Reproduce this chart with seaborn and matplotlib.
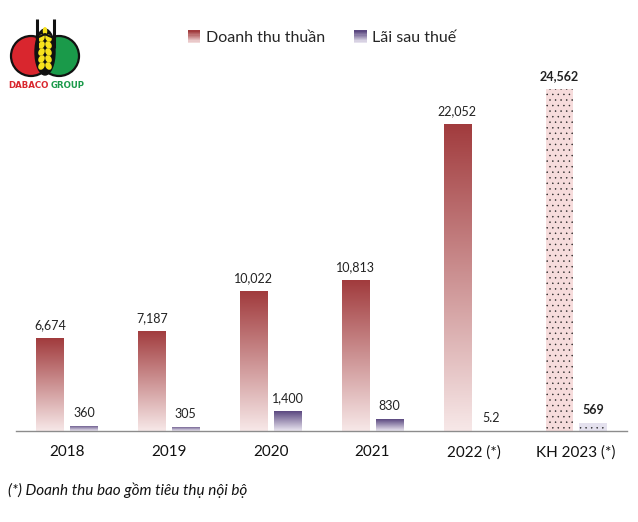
import numpy as np
import pandas as pd
import matplotlib
matplotlib.use("Agg")
import matplotlib.pyplot as plt
import seaborn as sns
from matplotlib.colors import LinearSegmentedColormap, to_rgb
from matplotlib.patches import Rectangle, Circle, Ellipse
from matplotlib.legend_handler import HandlerBase

# ---- data ----
categories = ["2018", "2019", "2020", "2021", "2022 (*)", "KH 2023 (*)"]
revenue = [6674, 7187, 10022, 10813, 22052, 24562]
profit = [360, 305, 1400, 830, 5.2, 569]
revenue_labels = ["6,674", "7,187", "10,022", "10,813", "22,052", "24,562"]
profit_labels = ["360", "305", "1,400", "830", "5.2", "569"]
series_names = ["Doanh thu thuần", "Lãi sau thuế"]
footnote = "(*) Doanh thu bao gồm tiêu thụ nội bộ"

sns.set_theme(style="white")
plt.rcParams["font.family"] = ["Lato", "DejaVu Sans"]
plt.rcParams["hatch.linewidth"] = 0.3

df = pd.DataFrame({
    "cat": categories * 2,
    "value": revenue + profit,
    "series": [series_names[0]] * len(categories) + [series_names[1]] * len(categories),
})

W, H = 638, 522
fig = plt.figure(figsize=(W / 100, H / 100), dpi=100)
ax = fig.add_axes([16 / W, 1 - 431 / H, (627 - 16) / W, (431 - 60) / H])

rev_top, rev_bot = "#a13b3d", "#f7e8e8"
pro_top, pro_bot = "#5b4880", "#ebe7f1"

sns.barplot(data=df, x="cat", y="value", hue="series", order=categories,
            hue_order=series_names, palette=[rev_top, pro_top],
            width=0.667, gap=0.2, ax=ax, legend=False, saturation=1)

ymax = 371 / 0.01393
n = len(categories)
cmaps = [LinearSegmentedColormap.from_list("r", [rev_bot, rev_top]),
         LinearSegmentedColormap.from_list("p", [pro_bot, pro_top])]
grad = np.linspace(0, 1, 256).reshape(-1, 1)

patches = list(ax.patches)
for i, p in enumerate(patches):
    s = i // n
    c = i % n
    x0, y0 = p.get_x(), p.get_y()
    w, h = p.get_width(), p.get_height()
    p.set_edgecolor("none")
    if c == n - 1:
        # plan bars: pale fill with dotted pattern
        p.set_facecolor("#f6dcdc" if s == 0 else "#e4e1ee")
        p.set_hatch("...")
        p._hatch_color = to_rgb("#222222") + (1.0,)
        p.set_linewidth(0)
    else:
        p.set_facecolor("none")
        im = ax.imshow(grad, cmap=cmaps[s], origin="lower", aspect="auto",
                       extent=[x0, x0 + w, y0, y0 + h], zorder=p.get_zorder())
        im.set_clip_path(p)
    # value labels
    lab = revenue_labels[c] if s == 0 else profit_labels[c]
    ax.text(x0 + w / 2, y0 + h + 13 / 0.01393, lab, ha="center", va="center",
            fontsize=9, color="#222222",
            fontweight="bold" if c == n - 1 else "normal")

ax.set_xlim(-0.5, n - 0.5)
ax.set_ylim(0, ymax)
ax.set_xlabel("")
ax.set_ylabel("")
ax.set_yticks([])
ax.tick_params(axis="x", length=0, pad=10, labelsize=11, labelcolor="#111111")
for side in ["top", "right", "left"]:
    ax.spines[side].set_visible(False)
ax.spines["bottom"].set_color("#8c8c8c")
ax.spines["bottom"].set_linewidth(1.0)


# ---- legend with gradient squares ----
class GradHandler(HandlerBase):
    def __init__(self, c_top, c_bot):
        super().__init__()
        self.c_top = np.array(to_rgb(c_top))
        self.c_bot = np.array(to_rgb(c_bot))

    def create_artists(self, legend, orig_handle, xdescent, ydescent, width,
                       height, fontsize, trans):
        arts = []
        k = 10
        for j in range(k):
            t = j / (k - 1)
            col = self.c_bot * (1 - t) + self.c_top * t
            r = Rectangle((-xdescent, -ydescent + height * j / k), width,
                          height / k + 0.2, facecolor=col, edgecolor="none",
                          transform=trans)
            arts.append(r)
        return arts


h1 = Rectangle((0, 0), 1, 1)
h2 = Rectangle((0, 0), 1, 1, facecolor="blue")
fig.legend([h1, h2], series_names, loc="center",
           bbox_to_anchor=(322 / W, 1 - 38 / H), ncol=2, frameon=False,
           fontsize=11.5, handlelength=0.8, handleheight=0.8, handletextpad=0.35,
           columnspacing=1.8,
           handler_map={h1: GradHandler(rev_top, "#f2dada"),
                        h2: GradHandler(pro_top, "#e6e2ee")})

# ---- footnote ----
fig.text(8 / W, 1 - 490 / H, footnote, fontsize=11, style="italic",
         color="#111111", ha="left", va="center")

# ---- logo (overlay in pixel coords) ----
ov = fig.add_axes([0, 0, 1, 1], zorder=5)
ov.set_xlim(0, W)
ov.set_ylim(H, 0)
ov.axis("off")
ov.patch.set_alpha(0)
ov.add_patch(Circle((31, 56), 20, facecolor="#d9262e", edgecolor="#111111", lw=1.6))
ov.add_patch(Circle((59, 56), 20, facecolor="#1a9a4a", edgecolor="#111111", lw=1.6))
ov.add_patch(Ellipse((45, 52), 20, 46, facecolor="#111111", edgecolor="#111111"))
ov.plot([36.5, 36.5], [19, 48], color="#111111", lw=2.2, solid_capstyle="butt")
ov.plot([54, 54], [19, 48], color="#111111", lw=2.2, solid_capstyle="butt")
ov.plot([36.5, 41, 45, 49, 54], [38, 36, 34, 36, 38], color="#111111", lw=1.5)
for yy in [38, 45, 52, 59, 66]:
    ov.add_patch(Ellipse((41.5, yy), 6, 8, angle=30, facecolor="#f7e21c", edgecolor="none"))
    ov.add_patch(Ellipse((48.5, yy), 6, 8, angle=-30, facecolor="#f7e21c", edgecolor="none"))
ov.add_patch(Ellipse((45, 31), 4.5, 8, facecolor="#f7e21c", edgecolor="none"))
ov.text(49, 86, "DABACO", color="#d9262e", fontsize=6.2, fontweight="bold",
        family=["DejaVu Sans"], ha="right", va="center")
ov.text(51, 86, "GROUP", color="#1a9a4a", fontsize=6.2, fontweight="bold",
        family=["DejaVu Sans"], ha="left", va="center")

fig.savefig("out.png", dpi=100, facecolor="white")
